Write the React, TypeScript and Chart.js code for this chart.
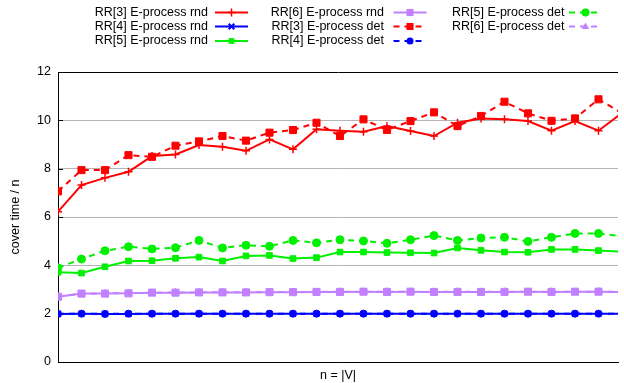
import React, { useEffect, useRef } from 'react';
import { Chart, registerables } from 'chart.js';

Chart.register(...registerables);

// x positions (index of graph size n), no labels shown on the axis
const nIndex = [0, 1, 2, 3, 4, 5, 6, 7, 8, 9, 10, 11, 12, 13, 14, 15, 16, 17, 18, 19, 20, 21, 22, 23, 24];

const rr3Rnd = [6.22, 7.32, 7.62, 7.87, 8.52, 8.59, 8.98, 8.91, 8.74, 9.21, 8.8, 9.63, 9.57, 9.53, 9.76, 9.56, 9.35, 9.9, 10.08, 10.04, 9.97, 9.57, 9.97, 9.57, 10.3];
const rr4Rnd = [1.99, 2.0, 1.99, 1.99, 2.0, 2.0, 2.0, 2.0, 2.0, 2.0, 2.0, 2.0, 2.0, 2.0, 2.0, 2.0, 2.0, 2.0, 2.0, 2.0, 2.0, 2.0, 2.0, 2.0, 2.0];
const rr5Rnd = [3.71, 3.68, 3.94, 4.18, 4.19, 4.29, 4.34, 4.18, 4.39, 4.41, 4.28, 4.32, 4.55, 4.55, 4.53, 4.52, 4.51, 4.72, 4.62, 4.55, 4.54, 4.66, 4.66, 4.61, 4.57];
const rr6Rnd = [2.7, 2.83, 2.83, 2.84, 2.87, 2.87, 2.88, 2.88, 2.88, 2.89, 2.89, 2.9, 2.9, 2.91, 2.9, 2.91, 2.9, 2.9, 2.9, 2.9, 2.91, 2.9, 2.91, 2.91, 2.9];
const rr3Det = [7.06, 7.94, 7.94, 8.56, 8.49, 8.95, 9.13, 9.35, 9.16, 9.49, 9.6, 9.9, 9.35, 10.04, 9.6, 9.97, 10.33, 9.76, 10.18, 10.77, 10.29, 9.98, 10.08, 10.87, 10.3];
const rr4Det = [1.99, 2.0, 1.99, 2.0, 2.0, 2.0, 2.0, 2.0, 2.0, 2.0, 2.0, 2.0, 2.0, 2.0, 2.0, 2.0, 2.0, 2.0, 2.0, 2.0, 2.0, 2.0, 2.0, 2.0, 2.0];
const rr5Det = [3.9, 4.26, 4.6, 4.77, 4.68, 4.73, 5.03, 4.72, 4.83, 4.79, 5.03, 4.93, 5.06, 5.01, 4.91, 5.06, 5.23, 5.03, 5.13, 5.16, 4.99, 5.16, 5.32, 5.32, 5.2];
const rr6Det = [2.71, 2.82, 2.84, 2.85, 2.86, 2.88, 2.88, 2.89, 2.89, 2.9, 2.9, 2.9, 2.91, 2.9, 2.91, 2.9, 2.9, 2.91, 2.9, 2.91, 2.9, 2.91, 2.9, 2.91, 2.91];

const seriesLabels = [
  'RR[3] E-process rnd',
  'RR[4] E-process rnd',
  'RR[5] E-process rnd',
  'RR[6] E-process rnd',
  'RR[3] E-process det',
  'RR[4] E-process det',
  'RR[5] E-process det',
  'RR[6] E-process det',
];
const seriesValues = [rr3Rnd, rr4Rnd, rr5Rnd, rr6Rnd, rr3Det, rr4Det, rr5Det, rr6Det];

const yTicks = [0, 2, 4, 6, 8, 10, 12];
const yTitle = 'cover time / n';
const xTitle = 'n = |V|';

const RED = '#ff0000';
const BLUE = '#0000ff';
const GREEN = '#00f000';
const PURPLE = '#c080ff';
const FONT = '"Liberation Sans", Arial, sans-serif';

const styles = [
  { color: RED, dash: [], point: 'cross', r: 4, pw: 1.5, order: 4 },
  { color: BLUE, dash: [], point: 'crossRot', r: 4, pw: 2, order: 6 },
  { color: GREEN, dash: [], point: 'rect', r: 4, pw: 1, order: 4 },
  { color: PURPLE, dash: [], point: 'rect', r: 5, pw: 1, order: 1 },
  { color: RED, dash: [6, 5], point: 'rect', r: 5, pw: 1, order: 2 },
  { color: BLUE, dash: [6, 5], point: 'circle', r: 3.5, pw: 1, order: 2 },
  { color: GREEN, dash: [6, 5], point: 'circle', r: 4, pw: 1, order: 2 },
  { color: PURPLE, dash: [6, 5], point: 'triangle', r: 4, pw: 1, order: 3 },
];

function drawMarker(ctx: CanvasRenderingContext2D, style: string, x: number, y: number, r: number, color: string, lw: number) {
  ctx.save();
  ctx.setLineDash([]);
  ctx.fillStyle = color;
  ctx.strokeStyle = color;
  ctx.lineWidth = lw;
  ctx.beginPath();
  if (style === 'circle') {
    ctx.arc(x, y, r, 0, Math.PI * 2);
    ctx.fill();
  } else if (style === 'rect') {
    const s = r * Math.SQRT1_2;
    ctx.rect(x - s, y - s, 2 * s, 2 * s);
    ctx.fill();
  } else if (style === 'cross') {
    ctx.moveTo(x - r, y);
    ctx.lineTo(x + r, y);
    ctx.moveTo(x, y - r);
    ctx.lineTo(x, y + r);
    ctx.stroke();
  } else if (style === 'crossRot') {
    const c = r * Math.SQRT1_2;
    ctx.moveTo(x - c, y - c);
    ctx.lineTo(x + c, y + c);
    ctx.moveTo(x - c, y + c);
    ctx.lineTo(x + c, y - c);
    ctx.stroke();
  } else if (style === 'triangle') {
    ctx.moveTo(x, y - r);
    ctx.lineTo(x + r * 0.9, y + r * 0.6);
    ctx.lineTo(x - r * 0.9, y + r * 0.6);
    ctx.closePath();
    ctx.fill();
  }
  ctx.restore();
}

const legendCols = [
  { textRight: 208, sample: 231.5 },
  { textRight: 384, sample: 410 },
  { textRight: 564.5, sample: 585.5 },
];
const legendRows = [12.5, 26.5, 41];

const legendPlugin = {
  id: 'gnuLegend',
  beforeDatasetsDraw(chart: any) {
    // inward tick marks on the left axis, gnuplot style
    const ctx: CanvasRenderingContext2D = chart.ctx;
    const y = chart.scales.y;
    const left = chart.chartArea.left;
    ctx.save();
    ctx.strokeStyle = '#000';
    ctx.lineWidth = 1;
    ctx.beginPath();
    yTicks.forEach((v) => {
      const py = Math.round(y.getPixelForValue(v)) + 0.5;
      ctx.moveTo(left, py);
      ctx.lineTo(left + 5, py);
    });
    ctx.stroke();
    ctx.restore();
  },
  afterDraw(chart: any) {
    const ctx: CanvasRenderingContext2D = chart.ctx;
    ctx.save();
    ctx.font = `12.5px ${FONT}`;
    ctx.textBaseline = 'middle';
    ctx.textAlign = 'right';
    seriesLabels.forEach((label, i) => {
      const col = legendCols[Math.floor(i / 3)];
      const y = legendRows[i % 3];
      const st = styles[i];
      ctx.fillStyle = '#000';
      ctx.fillText(label, col.textRight, y);
      ctx.save();
      ctx.strokeStyle = st.color;
      ctx.lineWidth = 2;
      if (st.dash.length) ctx.setLineDash([6, 5]);
      ctx.beginPath();
      ctx.moveTo(col.sample - 16.5, y);
      ctx.lineTo(col.sample + 16.5, y);
      ctx.stroke();
      ctx.restore();
      drawMarker(ctx, st.point, col.sample, y, st.r, st.color, st.pw);
    });
    ctx.restore();
  },
};

export default function App() {
  const ref = useRef<HTMLCanvasElement | null>(null);

  useEffect(() => {
    document.body.style.margin = '0';
    if (!ref.current) return;
    const datasets = seriesValues.map((vals, i) => {
      const st = styles[i];
      return {
        label: seriesLabels[i],
        data: vals.map((v, k) => ({ x: nIndex[k], y: v })),
        borderColor: st.color,
        backgroundColor: st.color,
        borderWidth: 2,
        borderDash: st.dash,
        pointStyle: st.point,
        pointRadius: st.r,
        pointBorderWidth: st.pw,
        pointBorderColor: st.color,
        pointBackgroundColor: st.color,
        tension: 0,
        order: st.order,
      };
    });

    const chart = new Chart(ref.current, {
      type: 'line',
      data: { datasets },
      plugins: [legendPlugin],
      options: {
        animation: false,
        responsive: false,
        events: [],
        layout: { padding: { top: 72, left: 0, right: 0, bottom: 0 } },
        plugins: {
          legend: { display: false },
          tooltip: { enabled: false },
        },
        scales: {
          x: {
            type: 'linear',
            min: 0,
            max: 23.83,
            ticks: { display: false },
            grid: { display: false, drawTicks: false },
            border: { display: true, color: '#000', width: 1 },
            title: {
              display: true,
              text: xTitle,
              color: '#000',
              font: { family: FONT, size: 12.5 },
              padding: { top: 0, bottom: 0 },
            },
            afterFit(scale: any) {
              scale.height = 21;
            },
          },
          y: {
            min: 0,
            max: 12,
            afterBuildTicks(scale: any) {
              scale.ticks = yTicks.map((v) => ({ value: v }));
            },
            ticks: {
              color: '#000',
              padding: 7,
              font: { family: FONT, size: 12.5 },
            },
            grid: {
              drawTicks: false,
              color: (c: any) => (c.tick && (c.tick.value === 12 || c.tick.value === 0) ? '#000' : '#b4b4b4'),
              lineWidth: 1,
            },
            border: { display: true, color: '#000', width: 1 },
            title: {
              display: true,
              text: yTitle,
              color: '#000',
              font: { family: FONT, size: 12.5 },
              padding: { top: 8, bottom: 0 },
            },
            afterFit(scale: any) {
              scale.width = 58;
            },
          },
        },
      },
    } as any);
    return () => chart.destroy();
  }, []);

  return (
    <div style={{ width: 624, height: 383, background: '#fff' }}>
      <canvas ref={ref} width={624} height={383} style={{ display: 'block' }} />
    </div>
  );
}
